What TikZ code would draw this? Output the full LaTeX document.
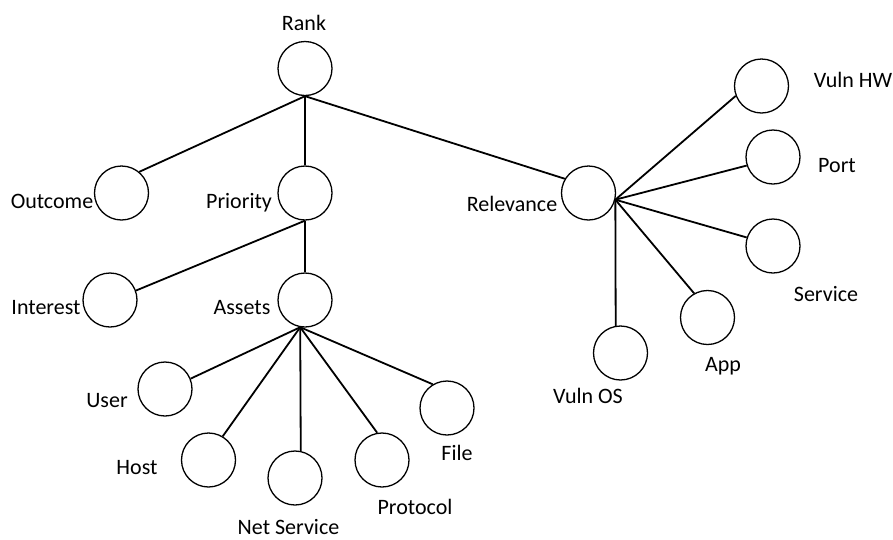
\documentclass[tikz,border=0pt]{standalone}
\usepackage{fontspec}
\setmainfont{Carlito}
\begin{document}
\begin{tikzpicture}[x=1pt,y=-1pt,
  vertex/.style={circle,draw,line width=1.3pt,minimum size=54pt,inner sep=0pt},
  lbl/.style={anchor=base,inner sep=0pt,font=\fontsize{22}{26}\selectfont},
  edge/.style={line width=1.8pt}]
\useasboundingbox (0,0) rectangle (893,539);

% circles
\node[vertex] (rank)  at (305,68.5) {};
\node[vertex] (outc)  at (121.5,193) {};
\node[vertex] (prio)  at (305,193) {};
\node[vertex] (relv)  at (588.5,193) {};
\node[vertex] (intr)  at (110,300) {};
\node[vertex] (asst)  at (305,300) {};
\node[vertex] (user)  at (165,389) {};
\node[vertex] (host)  at (208.5,460) {};
\node[vertex] (nets)  at (295,478) {};
\node[vertex] (prot)  at (382,460) {};
\node[vertex] (file)  at (447,408) {};
\node[vertex] (vhw)   at (761.5,86) {};
\node[vertex] (port)  at (773,157) {};
\node[vertex] (serv)  at (773,246) {};
\node[vertex] (app)   at (707.5,317.5) {};
\node[vertex] (vos)   at (620.5,353) {};

% labels
\node[lbl] (tRank) at (304,30.5) {Rank};
\node[lbl] (tOutc) at (52,208) {Outcome};
\node[lbl] (tPrio) at (239,208) {Priority};
\node[lbl] (tRelv) at (512,211) {Relevance};
\node[lbl] (tIntr) at (46,314) {Interest};
\node[lbl] (tAsst) at (242,314) {Assets};
\node[lbl] (tUser) at (107,407) {User};
\node[lbl] (tHost) at (137,474) {Host};
\node[lbl] (tNets) at (288.5,534.5) {Net Service};
\node[lbl] (tProt) at (415,514) {Protocol};
\node[lbl] (tFile) at (457,460) {File};
\node[lbl] (tVhw)  at (853,87) {Vuln HW};
\node[lbl] (tPort) at (837,172) {Port};
\node[lbl] (tServ) at (826,301) {Service};
\node[lbl] (tApp)  at (723,371) {App};
\node[lbl] (tVos)  at (588,403) {Vuln OS};

% connectors
\draw[edge] (rank.south) -- (outc.50);
\draw[edge] (rank.south) -- (prio.north);
\draw[edge] (rank.south) -- (relv.149);
\draw[edge] (prio.south) -- (intr.20);
\draw[edge] (prio.south) -- (asst.north);
\draw[edge] (asst.260) -- (user.22);
\draw[edge] (asst.260) -- (host.59);
\draw[edge] (asst.260) -- (nets.78);
\draw[edge] (asst.260) -- (prot.100);
\draw[edge] (asst.260) -- (file.121);
\draw[edge] (relv.346) -- (vhw.201);
\draw[edge] (relv.346) -- (port.198);
\draw[edge] (relv.346) -- (serv.162);
\draw[edge] (relv.346) -- (app.119);
\draw[edge] (relv.346) -- (vos.100);
\end{tikzpicture}
\end{document}
